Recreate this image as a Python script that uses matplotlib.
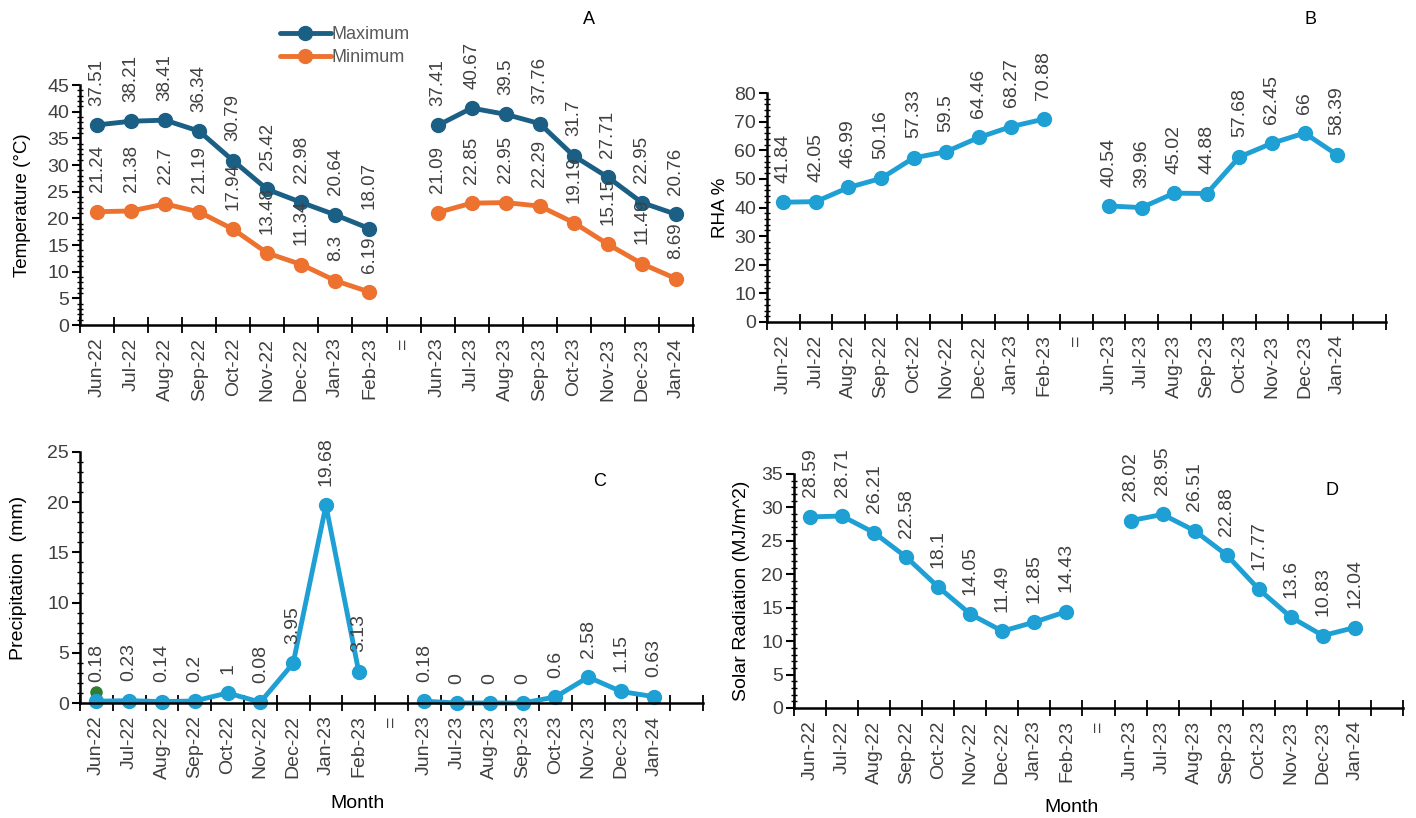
import numpy as np
from matplotlib import pyplot as plt

plt.rcParams["font.family"] = ["Liberation Sans", "DejaVu Sans"]

# Dati
mesi = ["Jun-22", "Jul-22", "Aug-22", "Sep-22", "Oct-22", "Nov-22", "Dec-22", "Jan-23", "Feb-23",
        "=",
        "Jun-23", "Jul-23", "Aug-23", "Sep-23", "Oct-23", "Nov-23", "Dec-23", "Jan-24"]

temp_max = [37.51, 38.21, 38.41, 36.34, 30.79, 25.42, 22.98, 20.64, 18.07, None,
            37.41, 40.67, 39.5, 37.76, 31.7, 27.71, 22.95, 20.76]
temp_min = [21.24, 21.38, 22.7, 21.19, 17.94, 13.48, 11.34, 8.3, 6.19, None,
            21.09, 22.85, 22.95, 22.29, 19.19, 15.15, 11.49, 8.69]
rha = [41.84, 42.05, 46.99, 50.16, 57.33, 59.5, 64.46, 68.27, 70.88, None,
       40.54, 39.96, 45.02, 44.88, 57.68, 62.45, 66, 58.39]
pioggia = [0.18, 0.23, 0.14, 0.2, 1, 0.08, 3.95, 19.68, 3.13, None,
           0.18, 0, 0, 0, 0.6, 2.58, 1.15, 0.63]
radiazione = [28.59, 28.71, 26.21, 22.58, 18.1, 14.05, 11.49, 12.85, 14.43, None,
              28.02, 28.95, 26.51, 22.88, 17.77, 13.6, 10.83, 12.04]
punto_verde = [1.1]  # punto isolato in C, Jun-22

BLU_SCURO = "#1b5f85"
ARANCIO = "#ed7230"
AZZURRO = "#1ea0d5"
GRIGIO = "#404040"

W, H = 1416, 818
fig = plt.figure(figsize=(W / 100, H / 100), dpi=100)


def crea_assi(sx, dx, basso, alto):
    """Crea assi da coordinate in pixel"""
    return fig.add_axes([sx / W, 1 - basso / H, (dx - sx) / W, (basso - alto) / H])


def serie(valori):
    return np.array([np.nan if v is None else v for v in valori], dtype=float)


def stile_assi(ax, n_cat, ymax, passo, minore, ylabel, ylab_px, ylab_size=13.5):
    ax.set_xlim(-0.5, n_cat - 0.5)
    ax.set_ylim(0, ymax)
    for lato in ["top", "right"]:
        ax.spines[lato].set_visible(False)
    for lato in ["left", "bottom"]:
        ax.spines[lato].set_linewidth(1.8)
        ax.spines[lato].set_color("black")
    ax.set_xticks(range(len(mesi)))
    ax.set_xticklabels(mesi, rotation=90, fontsize=14, color=GRIGIO)
    ax.set_xticks(np.arange(-0.5, n_cat, 1), minor=True)
    ax.tick_params(axis="x", which="major", length=0, pad=9)
    ax.tick_params(axis="x", which="minor", length=11, direction="inout", width=1.3)
    ax.set_yticks(np.arange(0, ymax + 0.1, passo))
    ax.set_yticks(np.arange(0, ymax + 0.01, minore), minor=True)
    ax.tick_params(axis="y", which="major", length=6, direction="out", width=1.5,
                   labelsize=14, labelcolor=GRIGIO, pad=2)
    ax.tick_params(axis="y", which="minor", length=4, direction="inout", width=1)
    ax.set_ylabel(ylabel, fontsize=ylab_size, color="black")
    pos = ax.get_position()
    ax.yaxis.set_label_coords((ylab_px / W - pos.x0) / pos.width, 0.5)


def etichetta_mese(ax, x_px, y_px):
    """Posiziona l'etichetta 'Month' in pixel"""
    ax.set_xlabel("Month", fontsize=14, va="center")
    pos = ax.get_position()
    ax.xaxis.set_label_coords((x_px / W - pos.x0) / pos.width,
                              ((1 - y_px / H) - pos.y0) / pos.height)


def disegna(ax, valori, colore, label=None, fs=13.5):
    y = serie(valori)
    x = np.arange(len(y))
    ax.plot(x, y, color=colore, lw=3.5, marker="o", ms=10, clip_on=False,
            solid_capstyle="round", label=label)
    for xi, v in zip(x, valori):
        if v is None:
            continue
        ax.annotate(f"{v:g}", (xi, v), xytext=(0, 14), textcoords="offset points",
                    rotation=90, ha="center", va="bottom", fontsize=fs, color=GRIGIO)


# A - Temperatura
axA = crea_assi(80, 693, 325, 85)
disegna(axA, temp_max, BLU_SCURO, "Maximum")
disegna(axA, temp_min, ARANCIO, "Minimum")
stile_assi(axA, 18, 45, 5, 1, "Temperature (°C)", 31)
axA.legend(loc="upper left", bbox_to_anchor=(280 / W, 1 - 26 / H), bbox_transform=fig.transFigure,
           frameon=False, fontsize=13, labelcolor="#595959", handlelength=2.8,
           handletextpad=0.05, labelspacing=0.35, borderpad=0, borderaxespad=0)
fig.text(589 / W, 1 - 19 / H, "A", fontsize=13, ha="center", va="center")

# B - Umidita
axB = crea_assi(767, 1386, 322, 93)
disegna(axB, rha, AZZURRO, fs=14)
stile_assi(axB, 19, 80, 10, 2, "RHA %", 729)
fig.text(1310 / W, 1 - 19 / H, "B", fontsize=13, ha="center", va="center")

# C - Precipitazioni
axC = crea_assi(80, 703, 703, 452)
disegna(axC, pioggia, AZZURRO, fs=14)
axC.plot([0], punto_verde, "o", color="#2e7d32", ms=8, zorder=1)
stile_assi(axC, 19, 25, 5, 1, "Precipitation  (mm)", 27, 14)
etichetta_mese(axC, 357, 803)
fig.text(600 / W, 1 - 482 / H, "C", fontsize=13, ha="center", va="center")

# D - Radiazione solare
axD = crea_assi(794, 1403, 708, 474)
disegna(axD, radiazione, AZZURRO, fs=14)
stile_assi(axD, 19, 35, 5, 1, "Solar Radiation (MJ/m^2)", 750, 14)
etichetta_mese(axD, 1072, 808)
fig.text(1332 / W, 1 - 491 / H, "D", fontsize=13, ha="center", va="center")

fig.savefig("out.png", dpi=100)
